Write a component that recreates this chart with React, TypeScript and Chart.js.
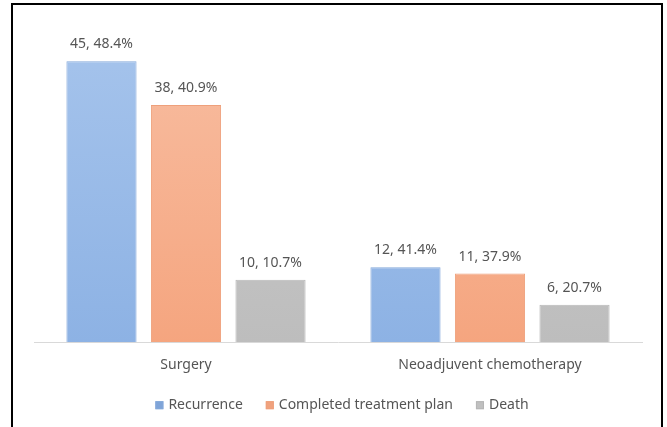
import React, { useEffect, useRef } from "react";
import { Chart, registerables } from "chart.js";

Chart.register(...registerables);

const categories = ["Surgery", "Neoadjuvent chemotherapy"];
const seriesNames = ["Recurrence", "Completed treatment plan", "Death"];
const recurrenceCounts = [45, 12];
const completedCounts = [38, 11];
const deathCounts = [10, 6];
const recurrencePct = [48.4, 41.4];
const completedPct = [40.9, 37.9];
const deathPct = [10.7, 20.7];

const FONT = "'Noto Sans', sans-serif";
const TEXT = "#555555";

const palettes = [
  { top: "#a6c4ec", bottom: "#8db2e4", border: "#84a8da", legend: "#7fa4d8" },
  { top: "#f8bea2", bottom: "#f5a57f", border: "#eea07b", legend: "#f0a27e" },
  { top: "#cdcdcd", bottom: "#bdbdbd", border: "#b6b6b6", legend: "#c0c0c0" },
];

function gradientFor(idx: number) {
  return (ctx: any) => {
    const chart = ctx.chart;
    const area = chart.chartArea;
    if (!area) return palettes[idx].bottom;
    const g = chart.ctx.createLinearGradient(0, area.top, 0, area.bottom);
    g.addColorStop(0, palettes[idx].top);
    g.addColorStop(1, palettes[idx].bottom);
    return g;
  };
}

const labelPlugin = {
  id: "barLabels",
  afterDatasetsDraw(chart: any) {
    const ctx = chart.ctx;
    const pcts = [recurrencePct, completedPct, deathPct];
    ctx.save();
    ctx.font = `14px ${FONT}`;
    ctx.fillStyle = TEXT;
    ctx.textAlign = "center";
    ctx.textBaseline = "middle";
    chart.data.datasets.forEach((ds: any, di: number) => {
      const meta = chart.getDatasetMeta(di);
      meta.data.forEach((bar: any, i: number) => {
        const text = `${ds.data[i]}, ${pcts[di][i].toFixed(1)}%`;
        ctx.fillText(text, bar.x, bar.y - 17);
      });
    });
    ctx.restore();
  },
};

const legendPlugin = {
  id: "customLegend",
  afterDraw(chart: any) {
    const ctx = chart.ctx;
    const area = chart.chartArea;
    ctx.save();
    ctx.font = `14px ${FONT}`;
    ctx.textBaseline = "middle";
    ctx.textAlign = "left";
    const box = 8;
    const gapBoxText = 5;
    const gapItems = 23;
    const widths = seriesNames.map((n) => box + gapBoxText + ctx.measureText(n).width);
    const total = widths.reduce((a, b) => a + b, 0) + gapItems * (seriesNames.length - 1);
    const cx = (area.left + area.right) / 2 + 4;
    const y = area.bottom + 63;
    let x = cx - total / 2;
    seriesNames.forEach((n, i) => {
      ctx.fillStyle = palettes[i].legend;
      ctx.fillRect(x, y - box / 2, box, box);
      ctx.strokeStyle = palettes[i].border;
      ctx.lineWidth = 1;
      ctx.strokeRect(x + 0.5, y - box / 2 + 0.5, box - 1, box - 1);
      ctx.fillStyle = TEXT;
      ctx.fillText(n, x + box + gapBoxText, y);
      x += widths[i] + gapItems;
    });
    ctx.restore();
  },
};

export default function App() {
  const ref = useRef<HTMLCanvasElement | null>(null);

  useEffect(() => {
    if (!ref.current) return;
    const data = [recurrenceCounts, completedCounts, deathCounts];
    const chart = new Chart(ref.current, {
      type: "bar",
      data: {
        labels: categories,
        datasets: seriesNames.map((name, i) => ({
          label: name,
          data: data[i],
          backgroundColor: gradientFor(i),
          borderColor: palettes[i].border,
          borderWidth: 1,
          barPercentage: 0.83,
          categoryPercentage: 0.834,
        })),
      },
      options: {
        animation: false,
        responsive: false,
        maintainAspectRatio: false,
        layout: { padding: { left: 34, right: 25, top: 30, bottom: 40 } },
        scales: {
          x: {
            grid: { display: false, drawTicks: false },
            border: { display: true, color: "#d9d9d9", width: 1 },
            ticks: { color: TEXT, font: { family: FONT, size: 14 }, padding: 14 },
          },
          y: {
            display: false,
            min: 0,
            max: 50,
          },
        },
        plugins: {
          legend: { display: false },
          tooltip: { enabled: false },
        },
      },
      plugins: [labelPlugin, legendPlugin],
    });
    return () => chart.destroy();
  }, []);

  return (
    <div style={{ position: "fixed", left: 0, top: 0, width: 667, height: 427, background: "#fff", overflow: "hidden" }}>
      <div
        style={{
          position: "absolute",
          left: 11,
          top: 3,
          width: 648,
          height: 460,
          border: "2px solid #000",
        }}
      />
      <canvas ref={ref} width={667} height={427} style={{ position: "absolute", left: 0, top: 0 }} />
    </div>
  );
}
